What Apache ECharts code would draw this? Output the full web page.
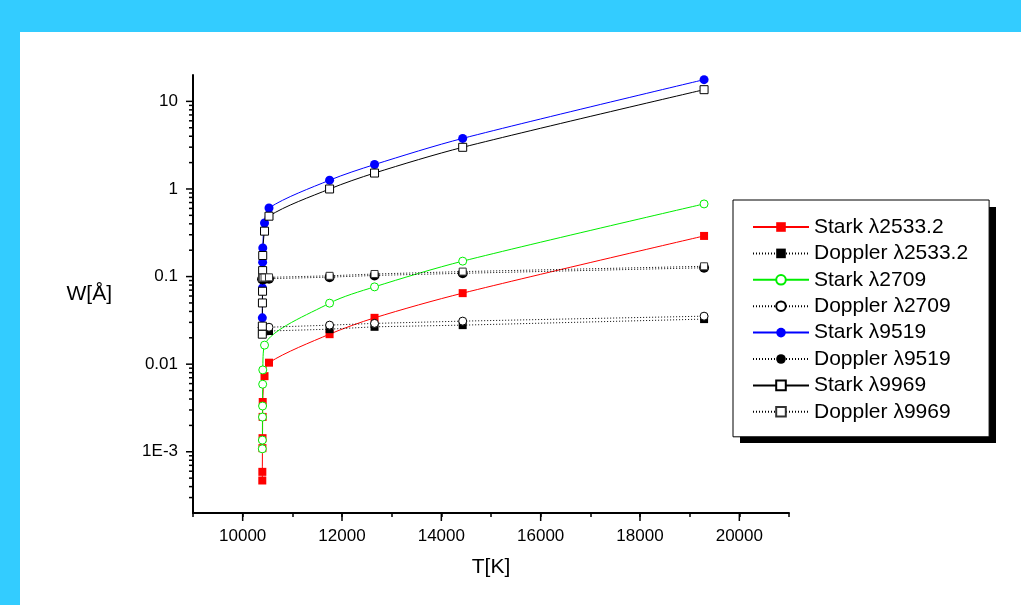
<!DOCTYPE html>
<html>
<head>
<meta charset="utf-8">
<script src="https://cdn.jsdelivr.net/npm/echarts@6/dist/echarts.min.js"></script>
<style>
  html, body { margin: 0; padding: 0; width: 1021px; height: 605px; overflow: hidden; background: #33ccff; }
  #chart { position: absolute; left: 20px; top: 32px; width: 1001px; height: 573px; background: #ffffff; }
</style>
</head>
<body>
<div id="chart"></div>
<script>
// Line widths W [Å] versus temperature T [K]
const tStark2533 = [10395, 10396, 10398, 10400, 10402, 10404, 10440, 10530, 11750, 12655, 14430, 19290];
const wStark2533 = [4.7e-4, 5.9e-4, 1.10e-3, 1.43e-3, 2.5e-3, 3.7e-3, 7.3e-3, 0.0104, 0.022, 0.0338, 0.0647, 0.291];
const tDoppler2533 = [10395, 10396, 10398, 10400, 10402, 10404, 10440, 10530, 11750, 12655, 14430, 19290];
const wDoppler2533 = [0.0237, 0.0237, 0.0237, 0.0237, 0.0237, 0.0237, 0.0238, 0.0239, 0.0251, 0.0267, 0.0279, 0.0327];

const tStark2709 = [10395, 10397, 10399, 10401, 10403, 10405, 10440, 11750, 12655, 14430, 19290];
const wStark2709 = [1.08e-3, 1.36e-3, 2.49e-3, 3.33e-3, 5.9e-3, 8.6e-3, 0.0165, 0.0497, 0.0763, 0.150, 0.675];
const tDoppler2709 = [10395, 10396, 10398, 10400, 10402, 10404, 10440, 10530, 11750, 12655, 14430, 19290];
const wDoppler2709 = [0.0262, 0.0262, 0.0262, 0.0262, 0.0262, 0.0262, 0.0263, 0.0264, 0.0279, 0.0292, 0.031, 0.0353];

const tStark9519 = [10396, 10399, 10402, 10405, 10440, 10530, 11750, 12655, 14430, 19290];
const wStark9519 = [0.0338, 0.074, 0.146, 0.212, 0.409, 0.607, 1.26, 1.90, 3.78, 17.7];
const tDoppler9519 = [10396, 10399, 10402, 10405, 10440, 10530, 11750, 12655, 14430, 19290];
const wDoppler9519 = [0.0935, 0.0935, 0.0935, 0.0935, 0.094, 0.0945, 0.0985, 0.103, 0.109, 0.126];

const tStark9969 = [10395, 10396, 10398, 10400, 10402, 10404, 10440, 10530, 11750, 12655, 14430, 19290];
const wStark9969 = [0.022, 0.0272, 0.050, 0.068, 0.117, 0.174, 0.330, 0.489, 1.00, 1.52, 2.99, 13.6];
const tDoppler9969 = [10395, 10396, 10398, 10400, 10402, 10404, 10440, 10530, 11750, 12655, 14430, 19290];
const wDoppler9969 = [0.097, 0.097, 0.097, 0.097, 0.097, 0.097, 0.0975, 0.098, 0.102, 0.107, 0.114, 0.131];

// Axis ranges and tick labels
const xMin = 9000, xMax = 21000;
const yMin = 2e-4, yMax = 20;
const xTickLabels = ['10000', '12000', '14000', '16000', '18000', '20000'];
const yTickLabels = { '-3': '1E-3', '-2': '0.01', '-1': '0.1', '0': '1', '1': '10' };
const yMajorTicks = [1e-3, 1e-2, 0.1, 1, 10];

const FONT = '"Liberation Sans", Arial, Helvetica, sans-serif';

function pairs(t, w) { return t.map((x, i) => [x, w[i]]); }

// log minor ticks 2..9 within each decade
const yMinorTicks = [];
for (let e = -4; e <= 1; e++) {
  for (let m = 2; m <= 9; m++) {
    const v = Number((m * Math.pow(10, e)).toPrecision(3));
    if (v > yMin && v < yMax) yMinorTicks.push(v);
  }
}

function starkSeries(name, t, w, color, symbol, filled, size) {
  return {
    name: name, type: 'line', data: pairs(t, w),
    symbol: symbol, symbolSize: size,
    smooth: 0.3,
    lineStyle: { color: color, width: 1 },
    itemStyle: filled ? { color: color } : { color: '#ffffff', borderColor: color, borderWidth: 1 },
    emphasis: { disabled: true }
  };
}
function dopplerSeries(name, t, w, symbol, filled, size, border) {
  return {
    name: name, type: 'line', data: pairs(t, w),
    symbol: symbol, symbolSize: size,
    lineStyle: { color: '#000000', width: 1, type: [1, 2] },
    itemStyle: filled ? { color: '#000000' } : { color: '#ffffff', borderColor: border, borderWidth: 1 },
    emphasis: { disabled: true }
  };
}

const names = ['Stark λ2533.2', 'Doppler λ2533.2', 'Stark λ2709', 'Doppler λ2709',
               'Stark λ9519', 'Doppler λ9519', 'Stark λ9969', 'Doppler λ9969'];

const series = [
  starkSeries(names[0], tStark2533, wStark2533, '#ff0000', 'rect', true, 8),
  dopplerSeries(names[1], tDoppler2533, wDoppler2533, 'rect', true, 8, '#000'),
  starkSeries(names[2], tStark2709, wStark2709, '#00ee00', 'circle', false, 8),
  dopplerSeries(names[3], tDoppler2709, wDoppler2709, 'circle', false, 8, '#000'),
  starkSeries(names[4], tStark9519, wStark9519, '#0000ff', 'circle', true, 9),
  Object.assign(dopplerSeries(names[5], tDoppler9519, wDoppler9519, 'circle', true, 10, '#000'), { z: 3 }),
  starkSeries(names[6], tStark9969, wStark9969, '#000000', 'rect', false, 8),
  dopplerSeries(names[7], tDoppler9969, wDoppler9969, 'rect', false, 7, '#333'),
  // y axis ticks (major and log minor)
  {
    type: 'custom', silent: true, clip: false, z: 1,
    data: yMajorTicks.map(v => [xMin, v, 7]).concat(yMinorTicks.map(v => [xMin, v, 4])),
    renderItem: function (params, api) {
      const p = api.coord([api.value(0), api.value(1)]);
      const len = api.value(2);
      return { type: 'line', shape: { x1: p[0] - len, y1: p[1], x2: p[0], y2: p[1] },
               style: { stroke: '#000', lineWidth: 1.5 } };
    }
  },
  // x axis major ticks
  {
    type: 'custom', silent: true, clip: false, z: 1,
    data: xTickLabels.map(s => [Number(s), yMin]),
    renderItem: function (params, api) {
      const p = api.coord([api.value(0), api.value(1)]);
      return { type: 'line', shape: { x1: p[0], y1: p[1], x2: p[0], y2: p[1] + 8 },
               style: { stroke: '#000', lineWidth: 1.5 } };
    }
  }
];

const chart = echarts.init(document.getElementById('chart'), null, { renderer: 'canvas' });
chart.setOption({
  animation: false,
  backgroundColor: '#ffffff',
  textStyle: { fontFamily: FONT },
  grid: { left: 173, top: 43, right: 232, bottom: 92, containLabel: false },
  xAxis: {
    type: 'value', min: xMin, max: xMax, interval: 1000,
    name: 'T[K]', nameLocation: 'middle', nameGap: 44,
    nameTextStyle: { fontSize: 21, color: '#000', fontFamily: FONT },
    axisLine: { onZero: false, lineStyle: { color: '#000', width: 2 } },
    axisTick: { show: true, length: 4, lineStyle: { color: '#000', width: 1.5 } },
    axisLabel: {
      margin: 15, fontSize: 17, color: '#000', fontFamily: FONT,
      formatter: v => (xTickLabels.indexOf(String(v)) >= 0 ? String(v) : '')
    },
    splitLine: { show: false }
  },
  yAxis: {
    type: 'log', logBase: 10, min: yMin, max: yMax,
    name: 'W[Å]', nameLocation: 'middle', nameRotate: 0, nameGap: 81,
    nameTextStyle: { fontSize: 21, color: '#000', fontFamily: FONT, padding: [0, 0, 52, 0] },
    axisLine: { onZero: false, lineStyle: { color: '#000', width: 2 } },
    axisTick: { show: false },
    axisLabel: {
      margin: 15, fontSize: 17, color: '#000', fontFamily: FONT,
      formatter: function (v) {
        const e = Math.log10(v);
        const r = Math.round(e);
        return Math.abs(e - r) < 1e-6 ? (yTickLabels[String(r)] || '') : '';
      }
    },
    splitLine: { show: false }
  },
  // drop shadow behind the legend box
  graphic: [{
    type: 'rect', left: 720, top: 175, z: -1, silent: true,
    shape: { width: 256, height: 236 },
    style: { fill: '#000' }
  }],
  legend: {
    data: names,
    orient: 'vertical', left: 713, top: 168,
    itemWidth: 56, itemHeight: 12, itemGap: 4.4,
    padding: [16, 21, 14, 19],
    backgroundColor: '#ffffff', borderColor: '#000', borderWidth: 1, borderRadius: 0,
    selectedMode: false,
    textStyle: { fontSize: 21, lineHeight: 22, color: '#000', fontFamily: FONT }
  },
  series: series
});
</script>
</body>
</html>
